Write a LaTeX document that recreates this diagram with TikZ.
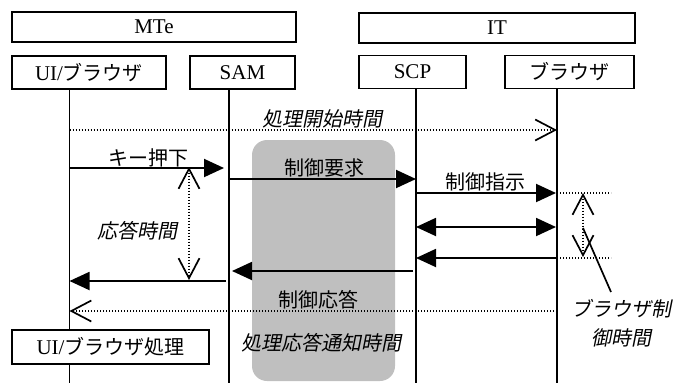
\documentclass[tikz,border=0pt]{standalone}
\usepackage{fontspec}
\setmainfont{Liberation Serif}
\newfontfamily\jp{Noto Sans CJK JP}
\newfontfamily\jpit[FakeSlant=0.2]{Noto Sans CJK JP}
\usetikzlibrary{arrows.meta}
\newcommand\dgsize{\fontsize{20}{29}\selectfont}
\tikzset{
  box/.style={draw, line width=1.7pt, fill=white, inner sep=0pt, minimum height=31pt, font=\fontsize{21}{29}\selectfont},
  life/.style={line width=1.7pt},
  msg/.style={line width=1.9pt, -{Triangle[length=20pt,width=18pt]}},
  twoway/.style={line width=1.9pt, {Triangle[length=20pt,width=18pt]}-{Triangle[length=20pt,width=18pt]}},
  dots/.style={line width=1.4pt, dash pattern=on 1.4pt off 1.6pt},
  barb/.tip={Straight Barb[length=20pt,width=21pt,line width=1.7pt]},
  jlabel/.style={font=\dgsize\jp, inner sep=0pt},
  ilabel/.style={font=\dgsize\jpit, inner sep=0pt},
}
\begin{document}
\begin{tikzpicture}[x=1pt,y=-1pt,font=\dgsize]
\useasboundingbox (0,0) rectangle (674,383);
% gray span of the control exchange
\fill[black!25, rounded corners=15pt] (252,140) rectangle (395,381);
% lifelines
\foreach \n/\x in {ui/69.5,sam/229,scp/416,br/557} {
  \coordinate (L\n) at (\x,383);
  \draw[life] (\x,89) -- (L\n);
}
% start of processing
\draw[dots, -{barb}] (Lui |- 0,130) -- (Lbr |- 0,130);
\node[ilabel] (tstart) at (322,119) {処理開始時間};
% request
\draw[msg, shorten >=5pt] (Lui |- 0,168) -- (Lsam |- 0,168);
\node[jlabel] (key) at (148,158) {キー押下};
\draw[msg] (Lsam |- 0,179) -- (Lscp |- 0,179);
\node[jlabel] (req) at (324,168) {制御要求};
\draw[msg, shorten >=1pt] (Lscp |- 0,193) -- (Lbr |- 0,193);
\node[jlabel] (cmd) at (485,182) {制御指示};
\draw[twoway, shorten >=1pt] (Lscp |- 0,227) -- (Lbr |- 0,227);
\draw[msg] (Lbr |- 0,258) -- (Lscp |- 0,258);
% response
\draw[msg, shorten <=3pt, shorten >=3pt] (Lscp |- 0,271) -- (Lsam |- 0,271);
\draw[msg, shorten <=3pt] (Lsam |- 0,281) -- (Lui |- 0,281);
\node[jlabel] (resp) at (318,300) {制御応答};
\draw[dots, -{barb}] (Lbr |- 0,311) -- (Lui |- 0,311);
% response time
\coordinate (rtop) at (189,167);
\coordinate (rbot) at (189,280);
\draw[dots, {barb}-{barb}] (rtop) -- (rbot);
\node[ilabel] (rtime) at (137,231) {応答時間};
% browser control time
\coordinate (btop) at (611,193);
\coordinate (bbot) at (611,258);
\draw[dots] (Lbr |- btop) -- (btop);
\draw[dots] (Lbr |- bbot) -- (bbot);
\draw[dots, {barb}-{barb}] (583,193) -- (583,257);
\node[ilabel, align=center] (btime) at (621,323) {ブラウザ制\\御時間};
\coordinate (bptr) at (583,228);
\draw[line width=1.7pt] (bptr) -- (611,292);
\node[ilabel] (ntime) at (321,343) {処理応答通知時間};
% boxes
\node[box, minimum width=284pt, minimum height=30pt] (mte) at (154,27) {MTe};
\node[box, minimum width=276pt, minimum height=30pt] (it) at (497,28) {IT};
\node[box, minimum width=154pt, minimum height=33pt] (ui) at (89,72.5) {UI/{\jp\dgsize ブラウザ}};
\node[box, minimum width=105pt, minimum height=33pt] (sam) at (242.5,72.5) {SAM};
\node[box, minimum width=107pt, minimum height=33pt] (scp) at (412.5,72) {SCP};
\node[box, minimum width=129pt, minimum height=33pt] (brw) at (569.5,72) {\jp\dgsize ブラウザ};
\node[box, minimum width=197pt, minimum height=34pt] (uiproc) at (110.5,347) {UI/{\jp\dgsize ブラウザ処理}};
\end{tikzpicture}
\end{document}
